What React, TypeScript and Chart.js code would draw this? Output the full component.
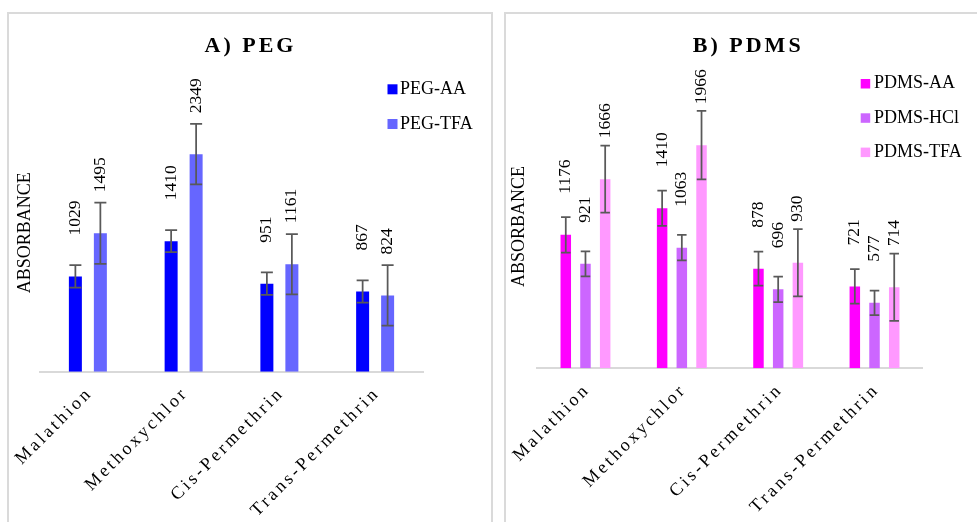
import React, { useEffect, useRef } from 'react';
import { Chart, registerables } from 'chart.js';

Chart.register(...registerables);

// ---------- DATA ----------
const categories = ['Malathion', 'Methoxychlor', 'Cis-Permethrin', 'Trans-Permethrin'];

const pegSeries = ['PEG-AA', 'PEG-TFA'];
const pegAA = [1029, 1410, 951, 867];
const pegTFA = [1495, 2349, 1161, 824];
const pegAAErr = [122, 120, 121, 120];
const pegTFAErr = [330, 327, 325, 327];

const pdmsSeries = ['PDMS-AA', 'PDMS-HCl', 'PDMS-TFA'];
const pdmsAA = [1176, 1410, 878, 721];
const pdmsHCl = [921, 1063, 696, 577];
const pdmsTFA = [1666, 1966, 930, 714];
const pdmsAAErr = [156, 156, 150, 152];
const pdmsHClErr = [110, 113, 112, 108];
const pdmsTFAErr = [295, 302, 297, 297];

const pegYMax = 3000;
const pdmsYMax = 2500;

const yAxisTitle = 'ABSORBANCE';
const pegTitle = 'A) PEG';
const pdmsTitle = 'B) PDMS';

// ---------- STYLE ----------
const FONT = "'Liberation Serif', 'Times New Roman', Times, serif";

type Spec = {
  title: string;
  series: string[];
  values: number[][];
  errors: number[][];
  colors: string[];
  yMax: number;
  canvasW: number;
  canvasH: number;
  pad: { top: number; right: number };
  xHeight: number;
  yWidth: number;
  yTitlePad: number;
  catPct: number;
  barPct: number;
  legend: { x: number; y: number; size: number; textX: number; gap: number };
  titleX: number;
  titleY: number;
};

function makeConfig(s: Spec): any {
  const extras = {
    id: 'extras',
    beforeDraw(chart: any) {
      chart.ctx.letterSpacing = '3px';
    },
    beforeDatasetsDraw(chart: any) {
      chart.ctx.letterSpacing = '0px';
    },
    afterDatasetsDraw(chart: any) {
      const ctx = chart.ctx;
      const yScale = chart.scales.y;
      chart.data.datasets.forEach((ds: any, i: number) => {
        const meta = chart.getDatasetMeta(i);
        meta.data.forEach((bar: any, j: number) => {
          const v = ds.data[j];
          const e = s.errors[i][j];
          const x = bar.x;
          const w = bar.width;
          const yTop = yScale.getPixelForValue(v + e);
          const yBot = yScale.getPixelForValue(v - e);
          ctx.save();
          ctx.strokeStyle = '#595959';
          ctx.lineWidth = 1.75;
          ctx.beginPath();
          ctx.moveTo(x, yTop);
          ctx.lineTo(x, yBot);
          ctx.moveTo(x - w / 2 + 0.5, yTop);
          ctx.lineTo(x + w / 2 - 0.5, yTop);
          ctx.moveTo(x - w / 2 + 0.5, yBot);
          ctx.lineTo(x + w / 2 - 0.5, yBot);
          ctx.stroke();
          ctx.restore();

          ctx.save();
          ctx.translate(x, bar.y - 41);
          ctx.rotate(-Math.PI / 2);
          ctx.font = `17.5px ${FONT}`;
          ctx.fillStyle = '#000';
          ctx.textAlign = 'left';
          ctx.textBaseline = 'middle';
          ctx.fillText(String(v), 0, 0);
          ctx.restore();
        });
      });
    },
    afterDraw(chart: any) {
      const ctx = chart.ctx;
      // title
      ctx.save();
      ctx.letterSpacing = '3px';
      ctx.font = `bold 22px ${FONT}`;
      ctx.fillStyle = '#000';
      ctx.textAlign = 'center';
      ctx.textBaseline = 'alphabetic';
      ctx.fillText(s.title, s.titleX, s.titleY);
      ctx.restore();
      // legend
      ctx.save();
      ctx.letterSpacing = '0px';
      ctx.font = `18px ${FONT}`;
      ctx.textAlign = 'left';
      ctx.textBaseline = 'middle';
      chart.data.datasets.forEach((ds: any, i: number) => {
        const y = s.legend.y + i * s.legend.gap;
        ctx.fillStyle = ds.backgroundColor;
        ctx.fillRect(s.legend.x, y, s.legend.size, s.legend.size);
        ctx.fillStyle = '#000';
        ctx.fillText(ds.label, s.legend.textX, y + s.legend.size / 2);
      });
      ctx.restore();
    },
  };

  return {
    type: 'bar',
    data: {
      labels: categories,
      datasets: s.values.map((vals, i) => ({
        label: s.series[i],
        data: vals,
        backgroundColor: s.colors[i],
        borderWidth: 0,
        categoryPercentage: s.catPct,
        barPercentage: s.barPct,
      })),
    },
    options: {
      responsive: false,
      animation: false,
      devicePixelRatio: 1,
      layout: { padding: { left: 0, top: s.pad.top, right: s.pad.right, bottom: 0 } },
      plugins: {
        legend: { display: false },
        title: { display: false },
        tooltip: { enabled: false },
      },
      scales: {
        x: {
          grid: { display: false, drawTicks: false },
          border: { display: true, color: '#d9d9d9', width: 2 },
          ticks: {
            minRotation: 45,
            maxRotation: 45,
            autoSkip: false,
            padding: 11,
            labelOffset: 2,
            color: '#000',
            font: { family: FONT, size: 18 },
          },
          afterFit: (sc: any) => {
            sc.height = s.xHeight;
          },
        },
        y: {
          min: 0,
          max: s.yMax,
          grid: { display: false, drawTicks: false, z: 1 },
          border: { display: false },
          ticks: { display: false },
          title: {
            display: true,
            text: yAxisTitle,
            color: '#000',
            font: { family: FONT, size: 18 },
            padding: { top: s.yTitlePad, bottom: 0 },
          },
          afterFit: (sc: any) => {
            sc.width = s.yWidth;
          },
        },
      },
    },
    plugins: [extras],
  };
}

const pegSpec: Spec = {
  title: pegTitle,
  series: pegSeries,
  values: [pegAA, pegTFA],
  errors: [pegAAErr, pegTFAErr],
  colors: ['#0000FF', '#6666FF'],
  yMax: pegYMax,
  canvasW: 498,
  canvasH: 522,
  pad: { top: 93.9, right: 75 },
  xHeight: 150.3,
  yWidth: 40,
  yTitlePad: 14.2,
  catPct: 0.522,
  barPct: 0.52,
  legend: { x: 387.5, y: 84.3, size: 10, textX: 400, gap: 34.7 },
  titleX: 250.5,
  titleY: 51.7,
};

const pdmsSpec: Spec = {
  title: pdmsTitle,
  series: pdmsSeries,
  values: [pdmsAA, pdmsHCl, pdmsTFA],
  errors: [pdmsAAErr, pdmsHClErr, pdmsTFAErr],
  colors: ['#FF00FF', '#CC66FF', '#FF99FF'],
  yMax: pdmsYMax,
  canvasW: 479,
  canvasH: 522,
  pad: { top: 84.55, right: 54.3 },
  xHeight: 153.7,
  yWidth: 39.3,
  yTitlePad: 10.7,
  catPct: 0.6134,
  barPct: 0.533,
  legend: { x: 362.7, y: 79, size: 9.5, textX: 376, gap: 34.3 },
  titleX: 250.2,
  titleY: 51.7,
};

function ChartPanel({ spec, left }: { spec: Spec; left: number }) {
  const ref = useRef<HTMLCanvasElement | null>(null);
  useEffect(() => {
    if (!ref.current) return;
    const chart = new Chart(ref.current, makeConfig(spec));
    return () => chart.destroy();
  }, []);
  return (
    <canvas
      ref={ref}
      width={spec.canvasW}
      height={spec.canvasH}
      style={{
        position: 'absolute',
        left,
        top: 0,
        width: spec.canvasW,
        height: spec.canvasH,
        display: 'block',
      }}
    />
  );
}

export default function App() {
  return (
    <div
      style={{
        position: 'fixed',
        left: 0,
        top: 0,
        width: 977,
        height: 522,
        overflow: 'hidden',
        background: '#fff',
      }}
    >
      <div
        style={{
          position: 'absolute',
          left: 7,
          top: 12,
          width: 482,
          height: 600,
          border: '2px solid #dadada',
        }}
      />
      <div
        style={{
          position: 'absolute',
          left: 504,
          top: 12,
          width: 600,
          height: 600,
          border: '2px solid #dadada',
        }}
      />
      <ChartPanel spec={pegSpec} left={0} />
      <ChartPanel spec={pdmsSpec} left={498} />
    </div>
  );
}
